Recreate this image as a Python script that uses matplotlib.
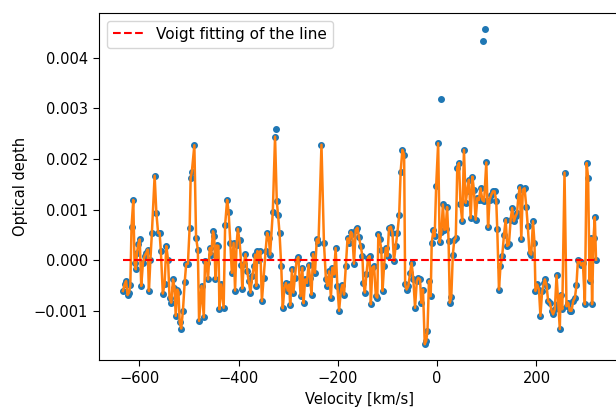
import matplotlib
matplotlib.use("Agg")
import matplotlib.pyplot as plt
import numpy as np

# channel velocities [km/s] and optical depth (units of 1e-3) of the cleaned spectrum
VELOCITY = [
    -632.8, -629.5, -626.5, -623.5, -620.5, -618.0, -615.5, -612.0, -609.5, -607.0,
    -604.5, -602.0, -599.0, -596.0, -592.5, -589.0, -586.0, -583.0, -580.5, -577.5,
    -574.5, -569.0, -565.5, -562.0, -559.0, -556.5, -552.5, -549.0, -545.5, -542.0,
    -539.0, -535.5, -532.0, -529.0, -526.5, -523.5, -521.0, -518.5, -515.5, -512.0,
    -508.5, -505.5, -502.0, -498.5, -496.5, -494.0, -489.0, -485.5, -482.0, -479.5,
    -474.5, -470.0, -467.5, -464.5, -461.5, -458.0, -455.0, -451.5, -449.0, -446.5,
    -443.5, -440.5, -438.5, -435.0, -430.0, -427.0, -423.0, -420.0, -416.5, -413.5,
    -410.0, -407.0, -404.0, -401.5, -398.0, -394.5, -392.5, -389.5, -386.0, -382.5,
    -379.5, -376.0, -372.5, -369.0, -366.5, -364.5, -362.0, -359.0, -356.0, -353.0,
    -349.5, -345.5, -342.5, -339.0, -336.5, -331.0, -326.5, -323.0, -320.5, -317.5,
    -314.0, -311.0, -307.5, -304.5, -301.0, -298.0, -296.0, -292.5, -289.5, -286.5,
    -283.0, -279.5, -275.0, -271.5, -269.0, -266.0, -262.5, -259.0, -256.0, -253.0,
    -250.0, -246.0, -242.5, -239.0, -233.0, -228.0, -224.0, -221.0, -217.5, -214.0,
    -211.0, -207.5, -204.5, -201.0, -197.5, -194.0, -191.0, -187.5, -184.0, -180.5,
    -177.5, -174.0, -171.0, -167.5, -164.0, -160.5, -157.5, -154.0, -150.5, -148.5,
    -145.5, -142.5, -139.0, -136.0, -133.5, -130.5, -127.0, -123.5, -120.5, -118.5,
    -115.5, -112.5, -110.0, -107.0, -103.5, -100.0, -97.0, -93.5, -90.0, -87.0,
    -83.5, -80.0, -76.5, -73.5, -70.0, -66.5, -64.5, -61.5, -58.0, -54.5,
    -51.5, -48.0, -44.5, -41.0, -38.0, -34.5, -32.0, -28.5, -25.0, -22.0,
    -19.5, -16.5, -13.0, -11.0, -7.5, -5.0, -2.0, 2.0, 5.0, 8.5,
    11.5, 14.5, 17.0, 20.0, 23.0, 25.5, 28.5, 31.5, 34.5, 37.5,
    40.5, 44.0, 47.0, 50.5, 54.0, 57.5, 60.5, 64.0, 67.5, 71.0,
    74.0, 77.5, 81.0, 84.0, 87.5, 91.0, 94.5, 99.0, 102.5, 105.5,
    109.0, 112.5, 115.5, 119.0, 121.0, 124.5, 127.5, 131.0, 134.5, 138.0,
    141.0, 144.5, 148.0, 151.0, 154.5, 158.0, 161.0, 163.5, 166.5, 169.5,
    172.5, 176.0, 179.5, 182.5, 186.0, 189.5, 193.0, 196.0, 198.0, 201.5,
    205.0, 208.0, 211.5, 215.0, 217.0, 220.5, 223.5, 227.0, 230.5, 233.5,
    237.0, 240.5, 244.0, 247.0, 248.5, 252.0, 256.5, 260.5, 264.0, 267.0,
    270.5, 274.0, 277.5, 280.5, 283.5, 286.5, 290.0, 293.5, 297.5, 301.0,
    304.0, 307.0, 310.0, 312.0, 315.0, 317.5, 320.0,
]
TAU_MILLI = [
    -0.61, -0.48, -0.41, -0.69, -0.64, -0.50, 0.66, 1.19, -0.05, -0.18,
    0.15, 0.31, 0.41, -0.51, -0.05, 0.09, 0.14, 0.21, -0.61, 0.01,
    0.54, 1.67, 0.93, 0.54, 0.54, 0.18, -0.66, -0.48, 0.28, 0.01,
    -0.74, -0.84, -0.38, -0.54, -1.10, -0.58, -0.63, -1.23, -1.35, -1.00,
    -0.44, -0.08, -0.07, 0.64, 1.62, 1.75, 2.27, 0.44, 0.21, -1.20,
    -0.51, -1.13, -0.02, -0.05, -0.38, 0.24, 0.11, 0.57, 0.47, -0.38,
    0.29, 0.28, -0.97, -0.48, -0.94, 0.70, 1.19, 0.95, 0.33, -0.25,
    0.34, -0.60, 0.30, 0.62, 0.39, -0.10, -0.56, -0.08, 0.12, -0.22,
    -0.41, -0.64, -0.32, -0.12, 0.11, -0.51, 0.18, 0.01, 0.18, -0.81,
    -0.35, 0.18, 0.54, 0.44, 0.11, 0.95, 2.44, 1.16, 0.90, 0.54,
    -0.12, -0.95, -0.54, -0.45, -0.60, -0.48, -0.89, -0.18, -0.64, -0.35,
    0.01, 0.06, -0.71, -0.15, -0.85, -0.38, -0.45, -0.09, -0.35, -0.68,
    0.12, -0.25, 0.41, 0.34, 2.28, 0.34, -0.38, -0.51, -0.22, -0.74,
    -0.15, -0.28, 0.24, -0.51, -1.00, -0.61, -0.49, -0.68, -0.12, 0.43,
    0.34, 0.56, 0.52, -0.07, 0.60, 0.64, 0.45, 0.28, 0.08, -0.45,
    -0.64, -0.28, 0.05, 0.08, -0.87, -0.15, -0.12, -0.71, -0.74, 0.51,
    0.41, 0.21, -0.61, -0.12, 0.24, 0.08, 0.64, 0.66, 0.54, -0.02,
    0.28, 0.54, 0.90, 1.75, 2.18, 2.08, -0.48, -0.58, -0.51, -0.25,
    -0.05, -0.38, -0.94, -0.41, -0.35, -0.38, -0.84, -0.58, -1.66, -1.59,
    -1.40, -0.41, -0.71, 0.34, 0.60, 0.47, 1.46, 2.31, 0.35, 0.55,
    1.10, 0.60, 0.61, 1.05, 0.38, -0.84, -0.72, 0.10, 0.40, 0.44,
    1.82, 1.92, 1.10, 0.77, 2.18, 1.13, 1.36, 1.59, 0.83, 1.65,
    1.39, 0.80, 1.23, 1.19, 1.42, 1.19, 1.16, 1.93, 0.65, 1.19,
    1.29, 1.36, 1.36, 1.17, 0.62, -0.58, -0.12, 0.08, 0.49, 0.80,
    0.28, 0.31, 0.80, 1.03, 0.77, 0.87, 0.93, 1.26, 1.44, 0.41,
    1.39, 1.42, 1.06, 0.67, 0.14, 0.11, 0.77, 0.34, -0.61, -0.48,
    -0.58, -1.10, -0.61, -0.45, -0.38, -0.51, -0.81, -0.84, -1.00, -1.07,
    -0.97, -0.30, -0.87, -1.36, -0.68, -0.97, 1.73, -0.91, -0.84, -1.00,
    -1.00, -0.81, -0.74, -0.50, 0.01, -0.02, -0.10, -0.05, -0.87, 1.92,
    1.63, -0.41, 0.44, -0.87, 0.44, 0.85, 0.01,
]

# channels rejected from the cleaned spectrum (shown only as points)
OUTLIER_VELOCITY = [-324.5, 7.0, 92.0, 95.5]
OUTLIER_TAU_MILLI = [2.59, 3.18, 4.33, 4.57]

VOIGT_LEVEL = 0.0


def main():
    plt.rcParams["font.size"] = 10.5
    plt.rcParams["xtick.major.size"] = 4.5
    plt.rcParams["ytick.major.size"] = 4.5

    v = np.array(VELOCITY)
    tau = np.array(TAU_MILLI) * 1e-3
    v_all = np.concatenate([v, OUTLIER_VELOCITY])
    tau_all = np.concatenate([tau, np.array(OUTLIER_TAU_MILLI) * 1e-3])

    fig = plt.figure(figsize=(6.16, 4.08), dpi=100)
    ax = fig.add_axes([99.3 / 616, 48 / 408, 520.4 / 616, 347 / 408])

    ax.scatter(v_all, tau_all, s=16, color="C0", zorder=2)
    ax.plot(v, tau, color="C1", linewidth=1.8, zorder=3)
    ax.hlines(VOIGT_LEVEL, v.min(), v.max(), colors="r", linestyles="--",
              linewidth=1.5, label="Voigt fitting of the line", zorder=4)

    ax.set_xlabel("Velocity [km/s]")
    ax.set_ylabel("Optical depth")
    ax.legend(loc="upper left", fontsize=11)

    fig.savefig("out.png", dpi=100)


if __name__ == "__main__":
    main()
